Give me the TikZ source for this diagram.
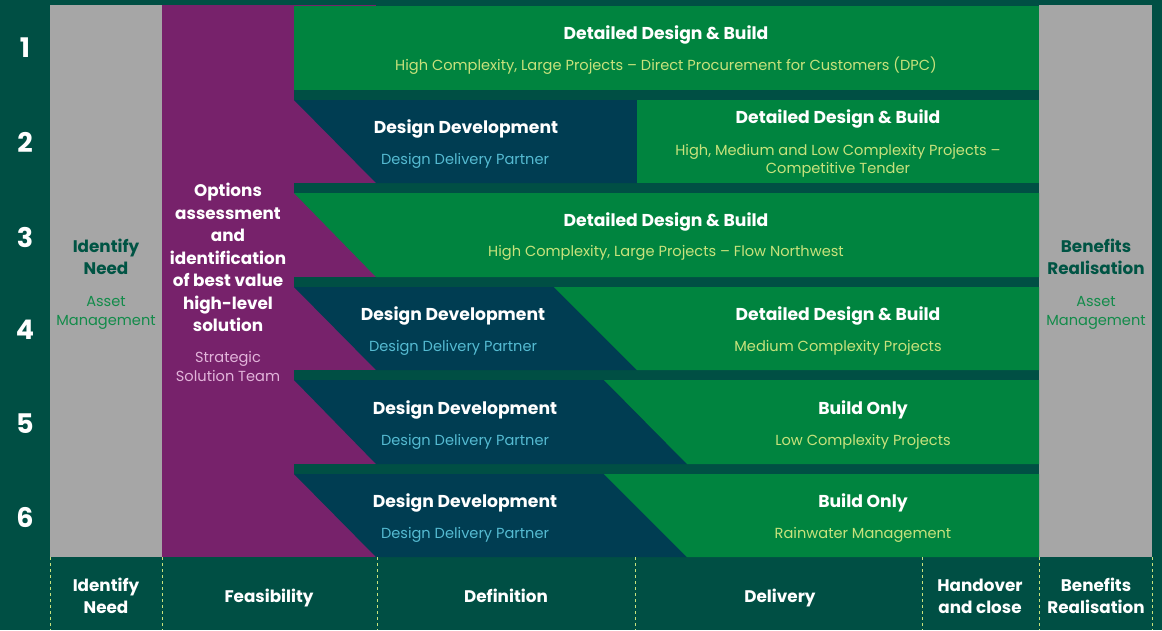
\documentclass[tikz,border=0pt]{standalone}
\usepackage{fontspec}
\setmainfont{Poppins}
\definecolor{bg}{HTML}{004F44}
\definecolor{grn}{HTML}{00843F}
\definecolor{navy}{HTML}{003D52}
\definecolor{plum}{HTML}{77226B}
\definecolor{grey}{HTML}{A6A6A6}
\definecolor{lime}{HTML}{C8E27C}
\definecolor{sky}{HTML}{55BBD2}
\definecolor{pinkish}{HTML}{E2B4DA}
\definecolor{deep}{HTML}{005444}
\definecolor{assetgrn}{HTML}{138B4A}
\begin{document}
\begin{tikzpicture}[x=1pt,y=-1pt,
  title/.style={text=white,font=\fontsize{17.2}{20}\selectfont\bfseries,align=center,inner sep=0pt,yshift=-2pt},
  sub/.style={text=lime,font=\fontsize{14.6}{18}\selectfont,align=center,inner sep=0pt,yshift=-2pt},
  partner/.style={sub,text=sky},
  rownum/.style={text=white,font=\fontsize{27}{30}\selectfont\bfseries,inner sep=0pt},
  phase/.style={text=white,font=\fontsize{16.8}{22}\selectfont\bfseries,align=center,inner sep=0pt},
  sep/.style={lime,line width=0.8pt,dash pattern=on 3pt off 3pt}]
% background and side columns
\fill[bg] (0,0) rectangle (1162,630);
\useasboundingbox (0,0) rectangle (1162,630);
\fill[grey] (50,5) rectangle (162,557);
\fill[grey] (1039,5) rectangle (1152,557);
\fill[plum] (162,5) rectangle (376,557);
% gaps between the rows
\foreach \a/\b in {90/100,183/193,277/287,370/380,464/474}
  \fill[bg] (294,\a) rectangle (1039,\b);
% row 1
\fill[grn] (294,6) rectangle (1039,90);
% row 2
\fill[navy] (294,100) -- (637,100) -- (637,183) -- (376,183) -- cycle;
\fill[grn] (637,100) rectangle (1039,183);
% row 3
\fill[grn] (294,193) -- (1039,193) -- (1039,277) -- (376,277) -- cycle;
% row 4
\fill[navy] (294,287) -- (554,287) -- (637,370) -- (376,370) -- cycle;
\fill[grn] (554,287) -- (1039,287) -- (1039,370) -- (637,370) -- cycle;
% row 5
\fill[navy] (294,380) -- (604,380) -- (687,464) -- (376,464) -- cycle;
\fill[grn] (604,380) -- (1039,380) -- (1039,464) -- (687,464) -- cycle;
% row 6
\fill[navy] (294,474) -- (604,474) -- (687,557) -- (376,557) -- cycle;
\fill[grn] (604,474) -- (1039,474) -- (1039,557) -- (687,557) -- cycle;
% phase separators
\foreach \x in {50,162,377,635,922,1039,1152}
  \draw[sep] (\x,557) -- (\x,630);
% row numbers
\node[rownum] (n1) at (25,48) {1};
\node[rownum] (n2) at (25,142) {2};
\node[rownum] (n3) at (25,237) {3};
\node[rownum] (n4) at (25,330) {4};
\node[rownum] (n5) at (25,424) {5};
\node[rownum] (n6) at (25,517) {6};
% side columns
\node[phase,text=deep] (need) at (106,257) {Identify\\Need};
\node[sub,text=assetgrn,font=\fontsize{14.6}{19}\selectfont] (assetL) at (106,311) {Asset\\Management};
\node[phase,text=deep] (benefit) at (1096,257) {Benefits\\Realisation};
\node[sub,text=assetgrn,font=\fontsize{14.6}{19}\selectfont] (assetR) at (1096,311) {Asset\\Management};
\node[phase,font=\fontsize{16.8}{22.5}\selectfont\bfseries] (options) at (228,257.5)
  {Options\\assessment\\and\\identification\\of best value\\high-level\\solution};
\node[sub,text=pinkish,font=\fontsize{14.6}{19}\selectfont] (sst) at (228,364.5) {Strategic\\Solution Team};
% row 1
\node[title] (r1t) at (666,33) {Detailed Design \& Build};
\node[sub] (r1s) at (666,64) {High Complexity, Large Projects – Direct Procurement for Customers (DPC)};
% row 2
\node[title] (r2dt) at (466,127) {Design Development};
\node[partner] (r2ds) at (465,159) {Design Delivery Partner};
\node[title] (r2t) at (838,117) {Detailed Design \& Build};
\node[sub] (r2s) at (838,158.5) {High, Medium and Low Complexity Projects –\\Competitive Tender};
% row 3
\node[title] (r3t) at (666,220) {Detailed Design \& Build};
\node[sub] (r3s) at (666,251) {High Complexity, Large Projects – Flow Northwest};
% row 4
\node[title] (r4dt) at (453,314) {Design Development};
\node[partner] (r4ds) at (453,346) {Design Delivery Partner};
\node[title] (r4t) at (838,314) {Detailed Design \& Build};
\node[sub] (r4s) at (838,346) {Medium Complexity Projects};
% row 5
\node[title] (r5dt) at (465,408) {Design Development};
\node[partner] (r5ds) at (465,440) {Design Delivery Partner};
\node[title] (r5t) at (863,408) {Build Only};
\node[sub] (r5s) at (863,440) {Low Complexity Projects};
% row 6
\node[title] (r6dt) at (465,501) {Design Development};
\node[partner] (r6ds) at (465,533) {Design Delivery Partner};
\node[title] (r6t) at (863,501) {Build Only};
\node[sub] (r6s) at (863,533) {Rainwater Management};
% phase labels
\node[phase] (p1) at (106,596) {Identify\\Need};
\node[phase,yshift=-2pt] (p2) at (269,596) {Feasibility};
\node[phase] (p3) at (506,596) {Definition};
\node[phase,yshift=-2pt] (p4) at (780,596) {Delivery};
\node[phase] (p5) at (980,596) {Handover\\and close};
\node[phase] (p6) at (1096,596) {Benefits\\Realisation};
\end{tikzpicture}
\end{document}
